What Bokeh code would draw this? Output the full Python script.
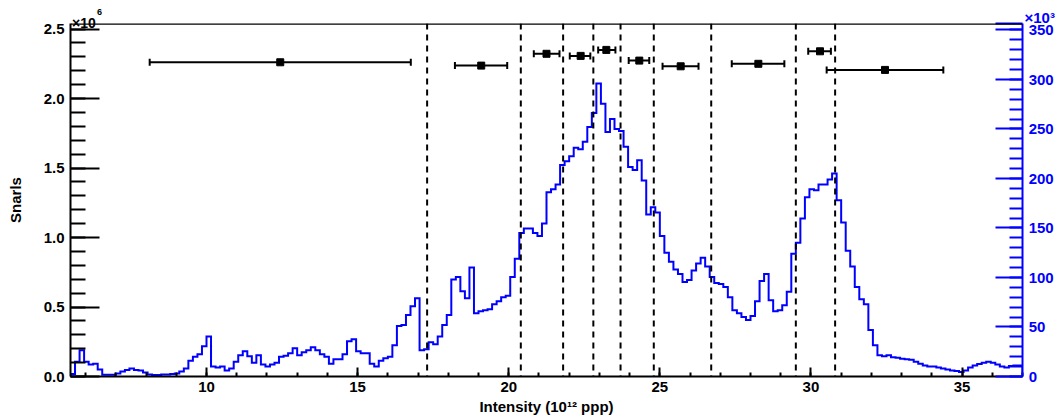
import numpy as np
from bokeh.plotting import figure
from bokeh.models import (Range1d, LinearAxis, SingleIntervalTicker, FixedTicker, NumeralTickFormatter,
                          Span, Label, Whisker, TeeHead, ColumnDataSource)
from bokeh.embed import file_html
from bokeh.resources import INLINE

# ---------------- data ----------------
# histogram (right axis, units of 10^3), bins of width 0.15 from 5.5 to 37
BIN_LO = 5.5
BIN_W = 0.15
hist_vals = [
    2.6, 15, 26.5, 15, 12, 13, 7, 1.7, 1.7, 1.7,
    3, 5, 6.5, 8, 6.5, 6, 4, 2, 1.5, 1.5,
    2, 2, 2.5, 3, 5, 8, 16, 20, 22.5, 30.5,
    40.5, 10, 9, 10, 6, 8, 15, 21.5, 25.5, 20.5,
    14, 21.5, 12, 10, 12, 14, 20, 21, 23.5, 28.5,
    21.5, 24.5, 26.5, 29.5, 26.5, 22.5, 20, 13, 17.5, 17.5,
    22.5, 35.5, 37.5, 25.5, 23.5, 23.5, 13, 10, 16, 18.5,
    20, 31.5, 51, 52, 62, 71, 79, 26.5, 27.5, 34.5,
    32.5, 40.5, 52, 62, 98, 100.5, 86, 79, 110, 64,
    66, 67, 68, 73, 76, 80, 81.5, 100.5, 119, 145,
    149.5, 149.5, 145, 142, 154.5, 186, 189, 194, 213.5, 217.5,
    222.5, 231, 229.5, 237, 252, 266, 296, 275.5, 247, 260,
    250, 248, 232, 211.5, 208.5, 218.5, 198, 163.5, 171, 165.5,
    142, 125, 116, 108, 103.5, 95.5, 97.5, 107, 114, 120,
    111, 100.5, 94.5, 93.5, 90.5, 80, 67, 64, 60, 57,
    61, 76, 96.5, 103.5, 77, 66, 67, 72, 85.5, 124,
    135, 159.5, 181, 189, 188, 194, 194, 199, 205, 178,
    155.5, 127, 111, 90.5, 78, 73, 47, 31.5, 21.5, 20.5,
    21.5, 19.5, 19, 18, 17.5, 17, 15, 13, 11, 10,
    10, 9, 8, 7, 6, 5.5, 4.5, 6, 9, 11,
    12.5, 14, 15, 14, 12, 10, 9, 10.5, 11, 11,
]

# dashed boundaries (10^12 ppp)
boundaries = [17.3, 20.4, 21.8, 22.8, 23.7, 24.8, 26.7, 29.5, 30.8]

# points with horizontal error bars (left axis, units of 10^6)
pt_x = [12.44, 19.09, 21.25, 22.38, 23.23, 24.32, 25.69, 28.26, 30.30, 32.45]
pt_xlo = [8.12, 18.22, 20.83, 22.02, 22.96, 23.97, 25.09, 27.38, 29.91, 30.52]
pt_xhi = [16.76, 19.95, 21.68, 22.70, 23.53, 24.65, 26.28, 29.12, 30.66, 34.38]
pt_y = [2.261, 2.237, 2.322, 2.307, 2.350, 2.273, 2.232, 2.250, 2.340, 2.206]

# right-axis tick values (10^3)
right_major = [0, 50, 100, 150, 200, 250, 300, 350]
right_minor = list(range(0, 351, 10))

X_MIN, X_MAX = 5.5, 37.0
Y_LEFT_MAX = 2.54
Y_RIGHT_MAX = 356.5

FONT = "Liberation Sans"
BLUE = "#0000ff"

# ---------------- figure ----------------
p = figure(width=1057, height=419, output_backend="svg", toolbar_location=None,
           x_range=Range1d(X_MIN, X_MAX), y_range=Range1d(0, Y_LEFT_MAX),
           min_border_left=70, min_border_right=34, min_border_top=23, min_border_bottom=43)
p.outline_line_color = None
p.xgrid.visible = False
p.ygrid.visible = False
p.background_fill_color = "white"
p.border_fill_color = "white"
p.extra_y_ranges = {"right": Range1d(0, Y_RIGHT_MAX)}

def style_axis(ax, color, maj_in, min_in):
    ax.axis_line_color = color
    ax.axis_line_width = 2
    ax.major_tick_line_color = color
    ax.minor_tick_line_color = color
    ax.major_tick_line_width = 2
    ax.minor_tick_line_width = 2
    ax.major_tick_in = maj_in
    ax.major_tick_out = 0
    ax.minor_tick_in = min_in
    ax.minor_tick_out = 0
    ax.major_label_text_color = color
    ax.major_label_text_font = FONT
    ax.major_label_text_font_style = "bold"
    ax.major_label_text_font_size = "15px"
    ax.major_label_standoff = 6
    ax.axis_label_text_font = FONT
    ax.axis_label_text_font_style = "bold"
    ax.axis_label_text_font_size = "15px"
    ax.axis_label_text_color = "black"

# left axis
la = p.yaxis[0]
la.ticker = SingleIntervalTicker(interval=0.5, num_minor_ticks=5)
la.formatter = NumeralTickFormatter(format="0.0")
style_axis(la, "black", 29, 15)
la.axis_label = "Snarls"
la.axis_label_standoff = 17

# bottom axis
ba = p.xaxis[0]
ba.ticker = SingleIntervalTicker(interval=5, num_minor_ticks=5)
style_axis(ba, "black", 9, 4)
ba.major_label_standoff = 5
ba.axis_label = "Intensity (10\u00b9\u00b2 ppp)"
ba.axis_label_standoff = 3

# right axis (the x10^3 multiplier is carried as the label of the top-of-range tick)
ra = LinearAxis(y_range_name="right")
ra.ticker = FixedTicker(ticks=right_major + [Y_RIGHT_MAX], minor_ticks=right_minor)
ra.formatter = NumeralTickFormatter(format="0")
style_axis(ra, BLUE, 27, 13)
ra.major_label_standoff = 2
ra.major_label_text_line_height = 0.65
overrides = {v: "\u00a0" + str(v) for v in right_major}
overrides[Y_RIGHT_MAX] = "\u00d710\u00b3\n"
ra.major_label_overrides = overrides
p.add_layout(ra, "right")

# histogram as closed step line
edges = BIN_LO + BIN_W * np.arange(len(hist_vals) + 1)
hx = [edges[0]]
hy = [0.0]
for i, v in enumerate(hist_vals):
    hx += [edges[i], edges[i + 1]]
    hy += [v, v]
hx.append(edges[-1])
hy.append(0.0)
p.line(hx, hy, y_range_name="right", line_color=BLUE, line_width=2, line_join="miter")

# dashed boundaries
for b in boundaries:
    p.add_layout(Span(location=b, dimension="height", line_color="black",
                      line_width=2, line_dash="6 5"))

# top frame line
p.add_layout(Span(location=Y_LEFT_MAX, dimension="width", line_color="black", line_width=2.5))

# error-bar points
src = ColumnDataSource(dict(x=pt_x, y=pt_y, xl=pt_xlo, xu=pt_xhi))
p.add_layout(Whisker(source=src, base="y", lower="xl", upper="xu", dimension="width",
                     line_color="black", line_width=2,
                     lower_head=TeeHead(size=7, line_width=2, line_color="black"),
                     upper_head=TeeHead(size=7, line_width=2, line_color="black")))
p.scatter("x", "y", source=src, marker="square", size=7, color="black")

# left multiplier, in the top border panel (not clipped to the frame)
p.add_layout(Label(x=X_MIN, y=Y_LEFT_MAX, x_offset=1.5, y_offset=0.5, text="\u00d710",
                   text_font=FONT, text_font_style="bold", text_font_size="14px",
                   text_color="black", text_baseline="alphabetic", text_align="left"), "above")
p.add_layout(Label(x=X_MIN, y=Y_LEFT_MAX, x_offset=26.5, y_offset=11.5, text="6",
                   text_font=FONT, text_font_style="bold", text_font_size="9px",
                   text_color="black", text_baseline="alphabetic", text_align="left"), "above")

open("out.html", "w").write(file_html(p, INLINE))
